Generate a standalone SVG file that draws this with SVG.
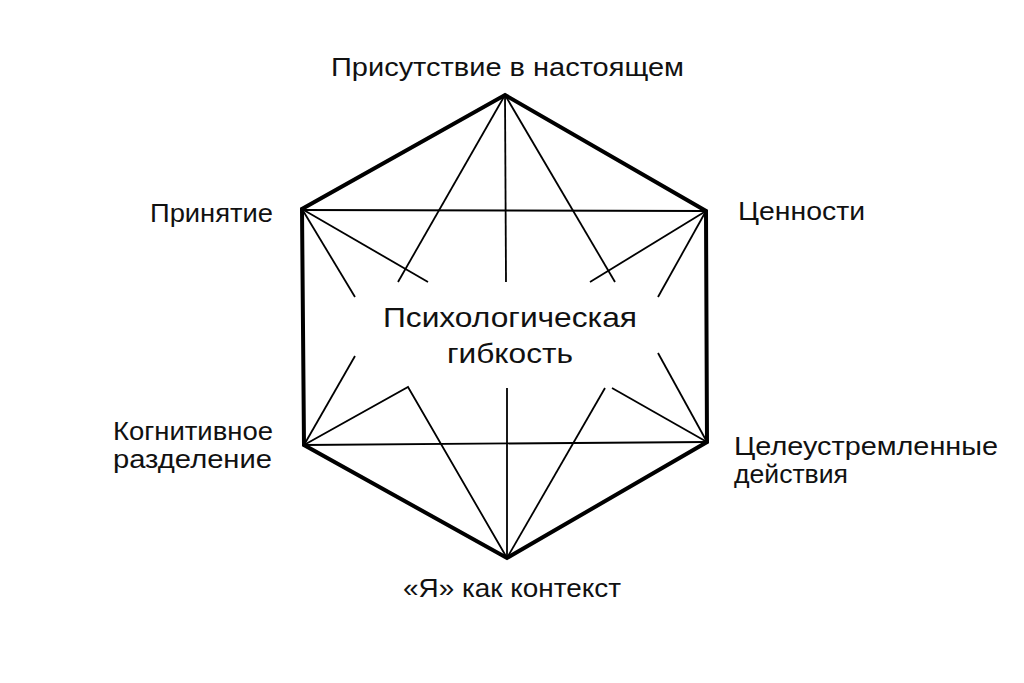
<svg xmlns="http://www.w3.org/2000/svg" width="1024" height="683" viewBox="0 0 1024 683">
<style>
.hex{fill:none;stroke:#000;stroke-width:4;stroke-linejoin:miter}
.ln{fill:none;stroke:#000;stroke-width:1.8;stroke-linecap:butt}
.t{font-family:"Liberation Sans","DejaVu Sans",sans-serif;font-size:26px;fill:#111}
.c{font-size:28px}
</style>
<rect width="1024" height="683" fill="#fff"/>
<g id="hexagon">
<polygon class="hex" points="505,95 706,211 707,442 507,558 304,445 302,209"/>
</g>
<g id="connectors">
<line class="ln" x1="302" y1="210" x2="706" y2="211"/>
<line class="ln" x1="304" y1="445" x2="707" y2="442"/>
<line class="ln" x1="505" y1="95" x2="506" y2="282"/>
<line class="ln" x1="505" y1="95" x2="398" y2="282"/>
<line class="ln" x1="505" y1="95" x2="615" y2="282"/>
<line class="ln" x1="302" y1="209" x2="355" y2="297"/>
<line class="ln" x1="302" y1="209" x2="428" y2="282"/>
<line class="ln" x1="706" y1="211" x2="590" y2="282"/>
<line class="ln" x1="706" y1="211" x2="658" y2="297"/>
<line class="ln" x1="304" y1="445" x2="355" y2="356"/>
<polyline class="ln" points="304,445 408,387 507,558"/>
<line class="ln" x1="507" y1="558" x2="507" y2="388"/>
<line class="ln" x1="507" y1="558" x2="605" y2="388"/>
<line class="ln" x1="707" y1="442" x2="612" y2="388"/>
<line class="ln" x1="707" y1="442" x2="658" y2="353"/>
</g>
<g id="node-center">
<text class="t c" x="383" y="327" textLength="254" lengthAdjust="spacingAndGlyphs">Психологическая</text>
<text class="t c" x="447" y="363" textLength="126" lengthAdjust="spacingAndGlyphs">гибкость</text>
</g>
<g id="node-top">
<text class="t" x="331" y="76" textLength="353" lengthAdjust="spacingAndGlyphs">Присутствие в настоящем</text>
</g>
<g id="node-upper-right">
<text class="t" x="738" y="220" textLength="127" lengthAdjust="spacingAndGlyphs">Ценности</text>
</g>
<g id="node-lower-right">
<text class="t" x="734" y="455" textLength="264" lengthAdjust="spacingAndGlyphs">Целеустремленные</text>
<text class="t" x="734" y="483" textLength="114" lengthAdjust="spacingAndGlyphs">действия</text>
</g>
<g id="node-bottom">
<text class="t" x="403" y="597" textLength="218" lengthAdjust="spacingAndGlyphs">«Я» как контекст</text>
</g>
<g id="node-lower-left">
<text class="t" x="113" y="440" textLength="160" lengthAdjust="spacingAndGlyphs">Когнитивное</text>
<text class="t" x="113" y="468" textLength="159" lengthAdjust="spacingAndGlyphs">разделение</text>
</g>
<g id="node-upper-left">
<text class="t" x="150" y="222" textLength="123" lengthAdjust="spacingAndGlyphs">Принятие</text>
</g>
</svg>
